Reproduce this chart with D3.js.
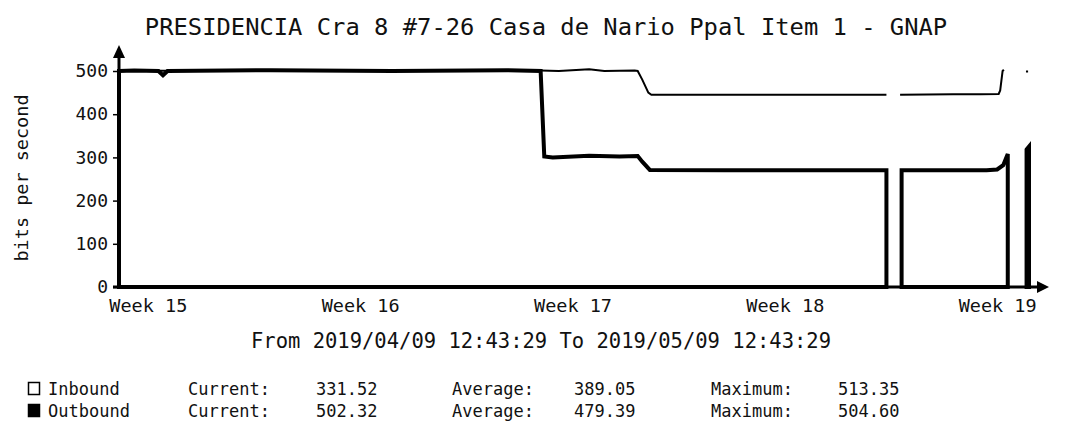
<!DOCTYPE html>
<html>
<head>
<meta charset="utf-8">
<script src="https://cdn.jsdelivr.net/npm/d3@7"></script>
<style>
  html, body { margin: 0; padding: 0; background: #fff; }
  svg { display: block; }
  text { font-family: "DejaVu Sans Mono", monospace; fill: #111; }
</style>
</head>
<body>
<svg id="chart" width="1079" height="431"></svg>
<script>
// ---- data ----
const titleText = "PRESIDENCIA Cra 8 #7-26 Casa de Nario Ppal Item 1 - GNAP";
const periodText = "From 2019/04/09 12:43:29 To 2019/05/09 12:43:29";
const yAxisLabel = "bits per second";
const yTicks = [0, 100, 200, 300, 400, 500];
const weekLabels = ["Week 15", "Week 16", "Week 17", "Week 18", "Week 19"];
const weekLabelDays = [0.95, 7.95, 14.95, 21.95, 28.95];

// days since 2019/04/09 12:43:29 ; null = no data
const inboundDays   = [0, 0.5, 1.3, 1.45, 1.6, 5, 9, 12.8, 13.9, 14.02, 14.3, 15.5, 16.5, 17.1, 17.25, 17.5, 20, 25.3, null, 25.8, 28.6, 28.95, 29.15, 29.3, null, 29.92, 30];
const inboundValues = [500, 501, 500, 490, 500, 502, 500, 502, 500, 302, 300, 304, 302, 303, 290, 271, 270, 270, null, 270, 270, 272, 282, 308, null, 318, 325];

const outboundDays   = [0, 3, 7, 10, 13.9, 14.5, 15.5, 16, 17.0, 17.1, 17.25, 17.45, 17.55, 22, 25.3, null, 25.75, 27.5, 28.4, 29.0, 29.05, 29.13, 29.17, null, 29.9, 29.97];
const outboundValues = [501, 500, 502, 501, 501, 500, 504, 500, 501, 500, 480, 450, 445, 445, 445, null, 445, 446, 446, 447, 455, 500, 503, null, 499, 499];

const legendNames   = ["Inbound", "Outbound"];
const currentVals   = ["331.52", "502.32"];
const averageVals   = ["389.05", "479.39"];
const maximumVals   = ["513.35", "504.60"];

// ---- build ----
const svg = d3.select("#chart");
const x = d3.scaleLinear().domain([0, 30]).range([119, 1029]);
const y = d3.scaleLinear().domain([0, 500]).range([287, 71]);

const inbound = inboundDays.map((d, i) => ({d, v: inboundValues[i]}));
const outbound = outboundDays.map((d, i) => ({d, v: outboundValues[i]}));

// title
svg.append("text").attr("x", 546).attr("y", 35).attr("text-anchor", "middle")
  .style("font-size", "23.8px").text(titleText);

// inbound area
const area = d3.area().defined(p => p.v !== null)
  .x(p => x(p.d)).y0(y(0)).y1(p => y(p.v));
svg.append("path").datum(inbound).attr("d", area)
  .attr("fill", "#fff").attr("stroke", "#000").attr("stroke-width", 4)
  .attr("stroke-linejoin", "miter");

// outbound line
const line = d3.line().defined(p => p.v !== null)
  .x(p => x(p.d)).y(p => y(p.v));
svg.append("path").datum(outbound).attr("d", line)
  .attr("fill", "none").attr("stroke", "#000").attr("stroke-width", 2);

// y axis
const yAxis = d3.axisLeft(y).tickValues(yTicks).tickSize(6).tickPadding(5).tickFormat(d3.format("d"));
const gy = svg.append("g").attr("transform", "translate(119,0)").call(yAxis);
gy.select(".domain").remove();
gy.selectAll(".tick line").attr("stroke", "#000").attr("stroke-width", 1.5);
gy.selectAll(".tick text").style("font-size", "18px").attr("fill", "#111");
svg.append("line").attr("x1", 119).attr("x2", 119).attr("y1", 289).attr("y2", 56)
  .attr("stroke", "#000").attr("stroke-width", 3);
svg.append("path").attr("d", "M113,58 L119,45 L125,58 Z").attr("fill", "#000");

// x axis
svg.append("line").attr("x1", 113).attr("x2", 1040).attr("y1", 287).attr("y2", 287)
  .attr("stroke", "#000").attr("stroke-width", 3);
svg.append("path").attr("d", "M1037,281 L1049,287 L1037,293 Z").attr("fill", "#000");
const xAxis = d3.axisBottom(x).tickValues(weekLabelDays).tickSize(0).tickPadding(12)
  .tickFormat((d, i) => weekLabels[i]);
const gx = svg.append("g").attr("transform", "translate(0,287)").call(xAxis);
gx.select(".domain").remove();
gx.selectAll(".tick text").style("font-size", "18.5px").attr("fill", "#111");

// y label
svg.append("text").attr("transform", "translate(28,178) rotate(-90)")
  .attr("text-anchor", "middle").style("font-size", "18.5px").text(yAxisLabel);

// period
svg.append("text").attr("x", 541).attr("y", 348).attr("text-anchor", "middle")
  .style("font-size", "20.5px").text(periodText);

// legend
const rowY = [395, 417];
legendNames.forEach((name, i) => {
  const g = svg.append("g");
  g.append("rect").attr("x", 28.5).attr("y", rowY[i] - 12.5).attr("width", 11).attr("height", 12)
    .attr("fill", i === 0 ? "#fff" : "#000").attr("stroke", "#000").attr("stroke-width", 1.5);
  const cols = [[48, name], [188, "Current:"], [316, currentVals[i]], [452, "Average:"],
                [574, averageVals[i]], [711, "Maximum:"], [838, maximumVals[i]]];
  cols.forEach(([cx, t]) => g.append("text").attr("x", cx).attr("y", rowY[i])
    .style("font-size", "17px").text(t));
});
</script>
</body>
</html>
